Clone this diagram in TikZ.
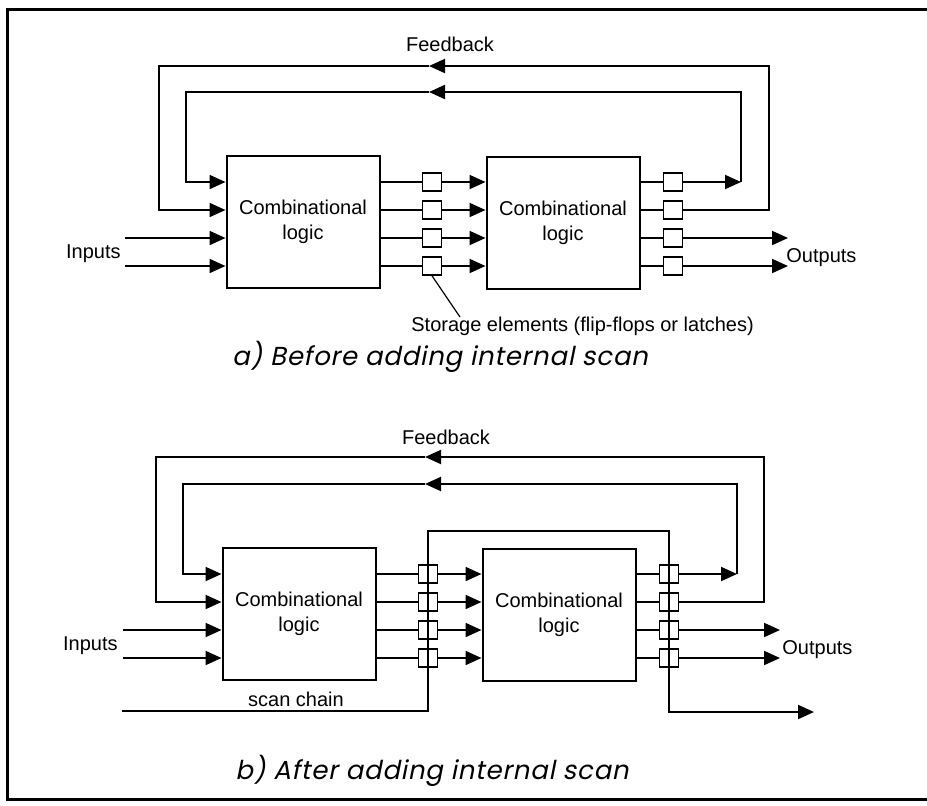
\documentclass[tikz,border=0pt]{standalone}
\usepackage{fontspec}
\setmainfont{Liberation Sans}
\newfontfamily\capfont{Poppins}[FakeSlant=0.2, LetterSpace=3]
\usetikzlibrary{positioning,arrows.meta}

\tikzset{
    logic/.style={draw, line width=1pt, inner sep=0pt, minimum width=76.5pt, minimum height=66pt, align=center, font=\fontsize{10}{12.5}\selectfont},
    ff/.style={draw, line width=0.8pt, fill=white, inner sep=0pt, minimum width=9.5pt, minimum height=9pt},
    wire/.style={line width=1pt},
    arr/.style={wire, -{Triangle[length=8pt, width=7pt]}},
    lbl/.style={font=\fontsize{10}{12}\selectfont, inner sep=0pt},
    caption/.style={font=\capfont\fontsize{13}{15}\selectfont, inner sep=0pt}
}

\begin{document}
\begin{tikzpicture}[x=0.5pt, y=-0.5pt]
    \useasboundingbox (0,0) rectangle (927,805);
    % frame
    \draw[line width=1.5pt] (927,9) -- (7,9) -- (7,799) -- (927,799);

    % a) before scan
    \begin{scope}
        \node[logic] (a1) at (303,222) {Combinational\\logic};
        \node[logic] (a2) at (563,223) {Combinational\\logic};
        \foreach \i/\y in {1/182,2/210,3/238,4/266} {
            \node[ff] (am\i) at (432,\y) {};
            \node[ff] (ar\i) at (673,\y) {};
            \draw[wire] (a1.east |- am\i) -- (am\i);
            \draw[arr] (am\i) -- (a2.west |- am\i);
            \draw[wire] (a2.east |- ar\i) -- (ar\i);
        }
        % inputs and outputs
        \coordinate (ain) at (125,238);
        \draw[arr] (ain) -- (a1.west |- am3);
        \draw[arr] (ain |- am4) -- (a1.west |- am4);
        \node[lbl, anchor=base east] (ainl) at (121,258) {Inputs};
        \coordinate (aout) at (788,238);
        \draw[arr] (ar3) -- (ar3 -| aout);
        \draw[arr] (ar4) -- (ar4 -| aout);
        \node[lbl, anchor=base west] (aoutl) at (786,262) {Outputs};
        % feedback
        \coordinate (afi) at (741,92);
        \coordinate (afim) at (429,92);
        \coordinate (afil) at (186,92);
        \coordinate (afo) at (769,66);
        \coordinate (afom) at (429,66);
        \coordinate (afol) at (159,66);
        \draw[arr] (ar1) -- (ar1 -| afi);
        \draw[arr] (ar1 -| afi) -- (afi) -- (afim);
        \draw[arr] (afim) -- (afil) |- (a1.west |- am1);
        \draw[arr] (ar2) -| (afo) -- (afom);
        \draw[arr] (afom) -- (afol) |- (a1.west |- am2);
        \node[lbl] (afb) at (450,44) {Feedback};
        % storage label
        \node[lbl, anchor=west] (astore) at (411,326) {Storage elements (flip-flops or latches)};
        \coordinate (aptr) at (460,317);
        \draw[line width=0.6pt] (am4.south) -- (aptr);
    \end{scope}

    % b) after scan
    \begin{scope}[shift={(-4,392)}]
        \node[logic] (b1) at (303,222) {Combinational\\logic};
        \node[logic] (b2) at (563,223) {Combinational\\logic};
        \foreach \i/\y in {1/182,2/210,3/238,4/266} {
            \node[ff] (bm\i) at (432,\y) {};
            \node[ff] (br\i) at (673,\y) {};
            \draw[wire] (b1.east |- bm\i) -- (bm\i);
            \draw[arr] (bm\i) -- (b2.west |- bm\i);
            \draw[wire] (b2.east |- br\i) -- (br\i);
        }
        % inputs and outputs
        \coordinate (bin) at (127,238);
        \draw[arr] (bin) -- (b1.west |- bm3);
        \draw[arr] (bin |- bm4) -- (b1.west |- bm4);
        \node[lbl, anchor=base east] (binl) at (122,258) {Inputs};
        \coordinate (bout) at (784,238);
        \draw[arr] (br3) -- (br3 -| bout);
        \draw[arr] (br4) -- (br4 -| bout);
        \node[lbl, anchor=base west] (boutl) at (786,262) {Outputs};
        % feedback
        \coordinate (bfi) at (741,92);
        \coordinate (bfim) at (429,92);
        \coordinate (bfil) at (187,92);
        \coordinate (bfo) at (768,65);
        \coordinate (bfom) at (429,65);
        \coordinate (bfol) at (160,65);
        \draw[arr] (br1) -- (br1 -| bfi);
        \draw[arr] (br1 -| bfi) -- (bfi) -- (bfim);
        \draw[arr] (bfim) -- (bfil) |- (b1.west |- bm1);
        \draw[arr] (br2) -| (bfo) -- (bfom);
        \draw[arr] (bfom) -- (bfol) |- (b1.west |- bm2);
        \node[lbl] (bfb) at (450,45) {Feedback};
        % scan chain
        \coordinate (bsin) at (126,319);
        \coordinate (bstop) at (432,139);
        \coordinate (bsout) at (818,320);
        \draw[arr] (bsin) -| (bstop) -| (bsout -| br1) -- (bsout);
        \node[lbl] (bscl) at (300,307) {scan chain};
    \end{scope}

    % captions
    \node[caption] (capa) at (440,357) {a) Before adding internal scan};
    \node[caption] (capb) at (432,771) {b) After adding internal scan};
\end{tikzpicture}
\end{document}
